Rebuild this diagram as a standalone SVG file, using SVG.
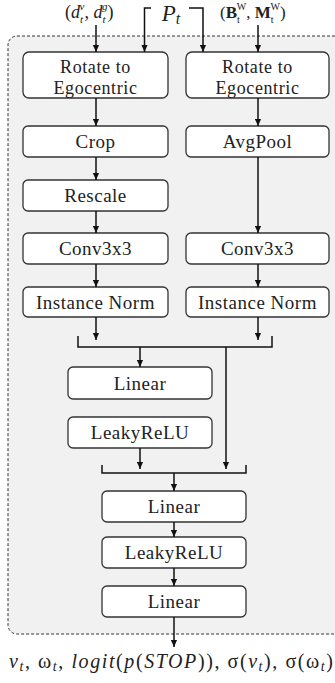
<svg xmlns="http://www.w3.org/2000/svg" width="335" height="683" viewBox="0 0 335 683">
<defs>
<marker id="ah" viewBox="0 0 8 8" refX="8" refY="4" markerWidth="7" markerHeight="7" markerUnits="userSpaceOnUse" orient="auto">
<path d="M0,0.5 L8,4 L0,7.5 z" fill="#111"/>
</marker>
<style>
.box{fill:#fff;stroke:#333;stroke-width:1.3}
.lbl{font-family:"Liberation Serif","DejaVu Serif",serif;font-size:19px;fill:#222;text-anchor:middle;letter-spacing:0.5px}
.lbl2{font-family:"Liberation Serif","DejaVu Serif",serif;font-size:18px;fill:#222;text-anchor:middle;letter-spacing:0.6px}
.ln{fill:none;stroke:#111;stroke-width:1.5}
.ar{fill:none;stroke:#111;stroke-width:1.5;marker-end:url(#ah)}
.math{font-family:"Liberation Serif","DejaVu Serif",serif;fill:#222}
</style>
</defs>
<rect x="8" y="36" width="340" height="598" rx="9" fill="#f1f1f1" stroke="#333" stroke-width="1" stroke-dasharray="3,2"/>
<g id="inputs">
<text class="math" x="65" y="18" font-size="18">(<tspan font-style="italic">d</tspan><tspan font-size="11" font-style="italic" dy="5">t</tspan><tspan font-size="11" font-style="italic" dx="-3.5" dy="-13">v</tspan><tspan dy="8">, </tspan><tspan font-style="italic">d</tspan><tspan font-size="11" font-style="italic" dy="5">t</tspan><tspan font-size="11" font-style="italic" dx="-3.5" dy="-13">g</tspan><tspan dy="8">)</tspan></text>
<text class="math" x="171" y="21" font-size="23" font-style="italic" text-anchor="middle">P<tspan font-size="16" dy="3">t</tspan></text>
<text class="math" x="220" y="18" font-size="17">(<tspan font-weight="bold">B</tspan><tspan font-size="10" dy="5">t</tspan><tspan font-size="10" dx="-3" dy="-13">W</tspan><tspan dy="8">, </tspan><tspan font-weight="bold">M</tspan><tspan font-size="10" dy="5">t</tspan><tspan font-size="10" dx="-3" dy="-13">W</tspan><tspan dy="8">)</tspan></text>
</g>
<g id="rotL"><rect class="box" x="23" y="52" width="145" height="46" rx="6"/><text class="lbl2" x="95.5" y="72.5">Rotate to</text><text class="lbl2" x="95.5" y="93.5">Egocentric</text></g>
<g id="rotR"><rect class="box" x="186" y="52" width="143" height="46" rx="6"/><text class="lbl2" x="257.5" y="72.5">Rotate to</text><text class="lbl2" x="257.5" y="93.5">Egocentric</text></g>
<g id="crop"><rect class="box" x="23" y="126" width="145" height="31" rx="5"/><text class="lbl" x="95.5" y="148">Crop</text></g>
<g id="avgpool"><rect class="box" x="186" y="126" width="143" height="31" rx="5"/><text class="lbl" x="257.5" y="148">AvgPool</text></g>
<g id="rescale"><rect class="box" x="23" y="180" width="145" height="31" rx="5"/><text class="lbl" x="95.5" y="202">Rescale</text></g>
<g id="convL"><rect class="box" x="23" y="233" width="145" height="31" rx="5"/><text class="lbl" x="95.5" y="255">Conv3x3</text></g>
<g id="convR"><rect class="box" x="186" y="233" width="143" height="31" rx="5"/><text class="lbl" x="257.5" y="255">Conv3x3</text></g>
<g id="normL"><rect class="box" x="23" y="287" width="145" height="30" rx="5"/><text class="lbl" x="95.5" y="308.5">Instance Norm</text></g>
<g id="normR"><rect class="box" x="186" y="287" width="143" height="30" rx="5"/><text class="lbl" x="257.5" y="308.5">Instance Norm</text></g>
<g id="lin1"><rect class="box" x="68" y="367" width="144" height="32" rx="5"/><text class="lbl" x="140" y="389.5">Linear</text></g>
<g id="relu1"><rect class="box" x="68" y="417" width="144" height="31" rx="5"/><text class="lbl" x="140" y="439">LeakyReLU</text></g>
<g id="lin2"><rect class="box" x="102" y="491" width="144" height="31" rx="5"/><text class="lbl" x="174" y="513">Linear</text></g>
<g id="relu2"><rect class="box" x="102" y="537" width="144" height="31" rx="5"/><text class="lbl" x="174" y="559">LeakyReLU</text></g>
<g id="lin3"><rect class="box" x="102" y="586" width="144" height="31" rx="5"/><text class="lbl" x="174" y="608">Linear</text></g>
<g id="output">
<text class="math" x="9" y="668" font-size="20" textLength="324" lengthAdjust="spacing"><tspan font-style="italic">v</tspan><tspan font-size="14" font-style="italic" dy="3">t</tspan><tspan dy="-3">, ω</tspan><tspan font-size="14" font-style="italic" dy="3">t</tspan><tspan dy="-3">,  </tspan><tspan font-style="italic">logit</tspan><tspan>(</tspan><tspan font-style="italic">p</tspan>(<tspan font-style="italic">STOP</tspan>)), σ(<tspan font-style="italic">v</tspan><tspan font-size="14" font-style="italic" dy="3">t</tspan><tspan dy="-3">), σ(ω</tspan><tspan font-size="14" font-style="italic" dy="3">t</tspan><tspan dy="-3">)</tspan></text>
</g>
<g id="connectors">
<path class="ar" d="M96,25 V52"/>
<path class="ar" d="M151,8 H144.5 V52"/>
<path class="ar" d="M189,8 H203 V52"/>
<path class="ar" d="M258,25 V52"/>
<path class="ar" d="M96,98 V126"/>
<path class="ar" d="M96,157 V180"/>
<path class="ar" d="M96,211 V233"/>
<path class="ar" d="M96,264 V287"/>
<path class="ar" d="M96,317 V340"/>
<path class="ar" d="M258,98 V126"/>
<path class="ar" d="M258,157 V233"/>
<path class="ar" d="M258,264 V287"/>
<path class="ar" d="M258,317 V340"/>
<path class="ln" d="M78,336 V347 H272 V336"/>
<path class="ar" d="M140,347 V367"/>
<path class="ar" d="M226,347 V469"/>
<path class="ar" d="M140,448 V469"/>
<path class="ln" d="M102,465 V473 H246 V465"/>
<path class="ar" d="M174,473 V491"/>
<path class="ar" d="M174,522 V537"/>
<path class="ar" d="M174,568 V586"/>
<path class="ar" d="M174,617 V647"/>
</g>
</svg>
